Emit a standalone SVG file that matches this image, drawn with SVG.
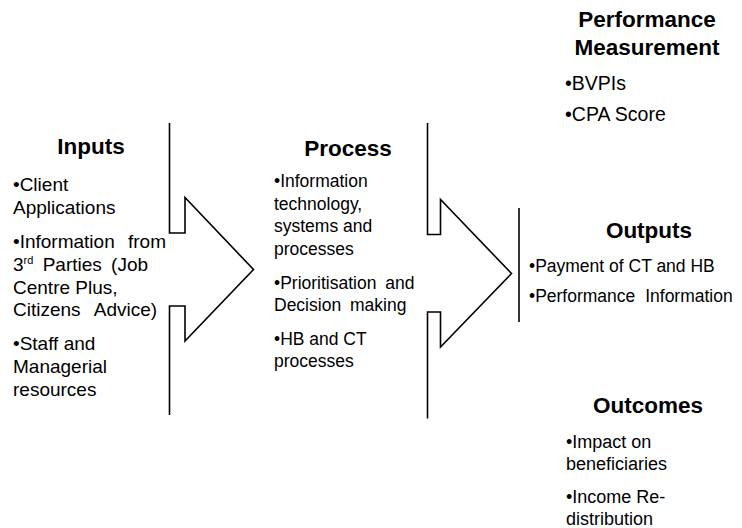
<svg xmlns="http://www.w3.org/2000/svg" width="742" height="528" viewBox="0 0 742 528">
<style>
.t{font-family:"Liberation Sans",Arial,sans-serif;font-weight:bold;font-size:22.5px;fill:#000;text-anchor:middle}
.b{font-family:"Liberation Sans",Arial,sans-serif;font-size:17.5px;fill:#000}
.i{font-size:19px}
.p{font-size:19.5px}
.o{font-size:18px}
.sup{font-size:11px}
.c{fill:none;stroke:#000;stroke-width:1.6;stroke-linejoin:miter}
</style>
<rect width="742" height="528" fill="#fff"/>
<g id="connectors">
<path class="c" d="M169.5,123 V233 H185 V197.5 L253.5,269.5 L185,341 V306 H169.5 V415"/>
<path class="c" d="M427.5,123 V234.5 H440.5 V199.5 L511.5,273.5 L440.5,347 V312 H427.5 V418.5"/>
<path class="c" d="M519,208 V322"/>
</g>
<g id="inputs">
<text class="t" x="91" y="154">Inputs</text>
<text class="b i" x="13" y="191">•Client</text>
<text class="b i" x="13" y="213.5">Applications</text>
<text class="b i" x="13" y="248" word-spacing="8">•Information from</text>
<text class="b i" x="13" y="271" word-spacing="4">3<tspan class="sup" dy="-7">rd</tspan><tspan dy="7"> Parties (Job</tspan></text>
<text class="b i" x="13" y="293.5">Centre Plus,</text>
<text class="b i" x="13" y="316" word-spacing="9">Citizens Advice)</text>
<text class="b i" x="13" y="350">•Staff and</text>
<text class="b i" x="13" y="373">Managerial</text>
<text class="b i" x="13" y="395.5">resources</text>
</g>
<g id="process">
<text class="t" x="348" y="156">Process</text>
<text class="b" x="274" y="187">•Information</text>
<text class="b" x="274" y="209.5">technology,</text>
<text class="b" x="274" y="232">systems and</text>
<text class="b" x="274" y="255">processes</text>
<text class="b" x="274" y="288.5" word-spacing="4">•Prioritisation and</text>
<text class="b" x="274" y="311" word-spacing="4">Decision making</text>
<text class="b" x="274" y="344.5">•HB and CT</text>
<text class="b" x="274" y="367">processes</text>
</g>
<g id="performance">
<text class="t" x="647" y="27">Performance</text>
<text class="t" x="647" y="55">Measurement</text>
<text class="b p" x="565" y="90">•BVPIs</text>
<text class="b p" x="565" y="121">•CPA Score</text>
</g>
<g id="outputs">
<text class="t" x="649" y="238">Outputs</text>
<text class="b" x="529" y="272">•Payment of CT and HB</text>
<text class="b" x="529" y="302" word-spacing="5">•Performance Information</text>
</g>
<g id="outcomes">
<text class="t" x="648" y="413">Outcomes</text>
<text class="b o" x="566" y="448">•Impact on</text>
<text class="b o" x="566" y="470">beneficiaries</text>
<text class="b o" x="566" y="503">•Income Re-</text>
<text class="b o" x="566" y="525">distribution</text>
</g>
</svg>
